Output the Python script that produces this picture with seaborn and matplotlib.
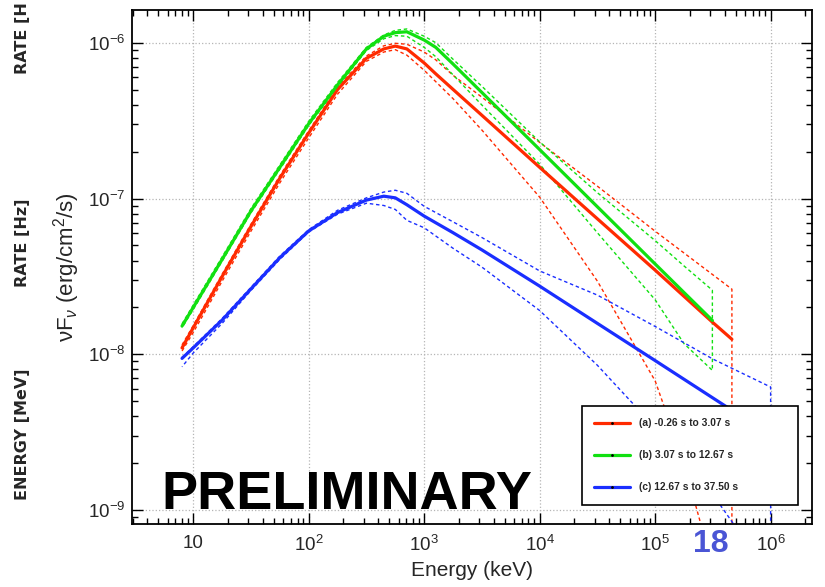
import pandas as pd
import seaborn as sns
import matplotlib.pyplot as plt
from matplotlib.lines import Line2D
from matplotlib.ticker import LogLocator, NullFormatter

sns.set_style("ticks")
plt.rcParams["font.family"] = ["Liberation Sans", "DejaVu Sans"]
plt.rcParams["mathtext.fontset"] = "custom"
plt.rcParams["mathtext.rm"] = "Liberation Sans"
plt.rcParams["mathtext.it"] = "Liberation Sans:italic"
plt.rcParams["mathtext.bf"] = "Liberation Sans:bold"

# energies (keV) and nuFnu (erg/cm2/s)
e_red = [8, 10, 17.8, 31.6, 56.2, 100, 178, 316, 447, 562, 708, 1000, 1260, 1780, 3160,
         1e4, 3.16e4, 1e5, 3.16e5, 4.62e5]
f_red = [1.10e-8, 1.48e-8, 3.16e-8, 6.61e-8, 1.35e-7, 2.63e-7, 5.01e-7, 7.94e-7, 9.12e-7,
         9.51e-7, 9.12e-7, 7.41e-7, 6.31e-7, 5.01e-7, 3.42e-7, 1.585e-7, 7.41e-8, 3.47e-8,
         1.60e-8, 1.25e-8]
f_red_hi = [1.15e-8, 1.53e-8, 3.27e-8, 6.84e-8, 1.40e-7, 2.72e-7, 5.19e-7, 8.22e-7, 9.55e-7,
            9.91e-7, 9.77e-7, 8.71e-7, 7.76e-7, 6.17e-7, 4.47e-7, 2.29e-7, 1.20e-7, 6.17e-8,
            3.24e-8, 2.62e-8]
e_red_lo = [8, 10, 17.8, 31.6, 56.2, 100, 178, 316, 447, 562, 708, 1000, 1260, 1780, 3160,
            1e4, 3.16e4, 1e5, 1.78e5, 2.51e5, 4.62e5]
f_red_lo = [1.05e-8, 1.38e-8, 2.95e-8, 6.17e-8, 1.26e-7, 2.45e-7, 4.68e-7, 7.59e-7, 8.71e-7,
            9.02e-7, 8.32e-7, 6.65e-7, 5.62e-7, 4.37e-7, 2.75e-7, 1.02e-7, 2.95e-8, 6.76e-9,
            2.00e-9, 7.94e-10, 1.0e-10]

e_grn = [8, 10, 17.8, 31.6, 56.2, 100, 178, 316, 447, 562, 708, 1000, 1260, 1780, 3160,
         1e4, 3.16e4, 1e5, 1.78e5, 3.13e5]
f_grn = [1.52e-8, 2.00e-8, 4.07e-8, 8.32e-8, 1.585e-7, 3.02e-7, 5.37e-7, 9.12e-7, 1.10e-6,
         1.16e-6, 1.175e-6, 1.04e-6, 9.33e-7, 7.29e-7, 4.79e-7, 2.06e-7, 8.85e-8, 3.80e-8,
         2.49e-8, 1.65e-8]
f_grn_hi = [1.57e-8, 2.07e-8, 4.22e-8, 8.61e-8, 1.64e-7, 3.13e-7, 5.56e-7, 9.33e-7, 1.12e-6,
            1.20e-6, 1.225e-6, 1.10e-6, 1.00e-6, 7.82e-7, 5.25e-7, 2.31e-7, 1.09e-7, 5.37e-8,
            3.69e-8, 2.58e-8]
f_grn_lo = [1.48e-8, 1.94e-8, 3.96e-8, 8.09e-8, 1.54e-7, 2.94e-7, 5.22e-7, 8.91e-7, 1.06e-6,
            1.11e-6, 1.10e-6, 9.33e-7, 8.13e-7, 6.21e-7, 3.98e-7, 1.66e-7, 6.03e-8, 2.24e-8,
            1.17e-8, 7.89e-9]

e_blu = [8, 10, 17.8, 31.6, 56.2, 100, 178, 316, 447, 562, 708, 1000, 1780, 3160,
         1e4, 3.16e4, 1e5, 3.16e5, 1e6]
f_blu = [9.42e-9, 1.10e-8, 1.66e-8, 2.63e-8, 4.17e-8, 6.19e-8, 8.13e-8, 9.77e-8, 1.035e-7,
         1.01e-7, 9.12e-8, 7.71e-8, 6.03e-8, 4.68e-8, 2.74e-8, 1.58e-8, 9.12e-9, 5.25e-9, 3.02e-9]
f_blu_hi = [9.55e-9, 1.12e-8, 1.70e-8, 2.69e-8, 4.27e-8, 6.31e-8, 8.41e-8, 1.01e-7, 1.10e-7,
            1.13e-7, 1.08e-7, 8.91e-8, 7.08e-8, 5.62e-8, 3.43e-8, 2.40e-8, 1.51e-8, 9.33e-9, 6.17e-9]
e_blu_lo = [8, 10, 17.8, 31.6, 56.2, 100, 178, 316, 447, 562, 708, 1000, 1780, 3160,
            1e4, 3.16e4, 1e5, 3.16e5, 4.79e5, 1e6]
f_blu_lo = [8.32e-9, 1.02e-8, 1.58e-8, 2.57e-8, 4.07e-8, 6.10e-8, 7.94e-8, 9.33e-8, 9.02e-8,
            8.51e-8, 7.24e-8, 6.49e-8, 4.79e-8, 3.63e-8, 1.91e-8, 8.51e-9, 3.39e-9, 1.26e-9,
            8.13e-10, 3.16e-10]

labels = ["(a) -0.26 s to 3.07 s", "(b) 3.07 s to 12.67 s", "(c) 12.67 s to 37.50 s"]
colors = ["#ff2a00", "#11e011", "#1a2eff"]

x_ticks = [10, 1e2, 1e3, 1e4, 1e5, 1e6]
x_ticklabels = ["10", "$10^{2}$", "$10^{3}$", "$10^{4}$", "$10^{5}$", "$10^{6}$"]
y_ticks = [1e-9, 1e-8, 1e-7, 1e-6]
y_ticklabels = ["$10^{-9}$", "$10^{-8}$", "$10^{-7}$", "$10^{-6}$"]

fig = plt.figure(figsize=(8.25, 5.87), dpi=100)
ax = fig.add_axes([0.16, 0.1073, 0.8242, 0.8756])
ax.set_xscale("log")
ax.set_yscale("log")

curves = [
    (e_red, f_red, f_red_hi, e_red_lo, f_red_lo),
    (e_grn, f_grn, f_grn_hi, e_grn, f_grn_lo),
    (e_blu, f_blu, f_blu_hi, e_blu_lo, f_blu_lo),
]

# dashed error contours: upper edge, then back along the lower edge
for (e, f, fhi, elo, flo), c in zip(curves, colors):
    cx = list(e) + list(elo)[::-1]
    cy = list(fhi) + list(flo)[::-1]
    sns.lineplot(x=cx, y=cy, sort=False, estimator=None, color=c, lw=1.0,
                 linestyle=(0, (2.5, 2)), ax=ax)

for (e, f, fhi, elo, flo), c in zip(curves, colors):
    df = pd.DataFrame({"E": e, "F": f})
    sns.lineplot(data=df, x="E", y="F", sort=False, estimator=None, color=c, lw=2.3, ax=ax)

ax.set_xlim(2.95, 2.28e6)
ax.set_ylim(8.15e-10, 1.62e-6)

ax.set_xticks(x_ticks)
ax.set_xticklabels(x_ticklabels)
ax.set_yticks(y_ticks)
ax.set_yticklabels(y_ticklabels)
ax.xaxis.set_minor_locator(LogLocator(base=10, subs=range(2, 10), numticks=50))
ax.yaxis.set_minor_locator(LogLocator(base=10, subs=range(2, 10), numticks=50))
ax.xaxis.set_minor_formatter(NullFormatter())
ax.yaxis.set_minor_formatter(NullFormatter())
ax.tick_params(which="both", direction="in", top=True, right=True, color="black", width=1)
ax.tick_params(which="major", length=8, labelsize=13.5)
ax.tick_params(axis="x", which="major", pad=8)
ax.tick_params(axis="y", which="major", pad=5)
ax.tick_params(which="minor", length=4.5)
ax.grid(True, which="major", linestyle=":", color="#b5b5b5", lw=0.9)
for s in ax.spines.values():
    s.set_color("black")
    s.set_linewidth(1.3)

ax.set_xlabel("Energy (keV)", fontsize=15, labelpad=4)
ax.set_ylabel("νF$_{ν}$ (erg/cm$^{2}$/s)", fontsize=16)
ax.yaxis.set_label_coords(-0.074, 0.5)

handles = [Line2D([], [], color=c, lw=2.3, marker=".", ms=2, mfc="black", mec="black")
           for c in colors]
leg = ax.legend(handles, labels, loc="upper left", bbox_to_anchor=(0.662, 0.0, 0.318, 0.230),
                mode="expand", borderaxespad=0, fancybox=False, framealpha=1, edgecolor="black",
                numpoints=1, handlelength=3.5, handletextpad=0.88, labelspacing=2.15,
                borderpad=1.2, prop={"size": 7.4, "weight": "bold"})
leg.get_frame().set_linewidth(1.2)

fig.text(161 / 825, 1 - 508.7 / 587, "PRELIMINARY", fontsize=39, fontweight="bold",
         ha="left", va="baseline", color="black")
fig.text(711 / 825, 1 - 552 / 587, "18", fontsize=23, fontweight="bold",
         ha="center", va="baseline", color="#4a55d5")

side = dict(rotation=90, fontsize=11.5, fontweight="bold", family="DejaVu Sans", ha="center")
fig.text(23 / 825, 1 - 74 / 587, "RATE [H", va="bottom", **side)
fig.text(23 / 825, 1 - 243 / 587, "RATE [Hz]", va="center", **side)
fig.text(23 / 825, 1 - 434 / 587, "ENERGY [MeV]", va="center", **side)

fig.savefig("out.png", dpi=100)
